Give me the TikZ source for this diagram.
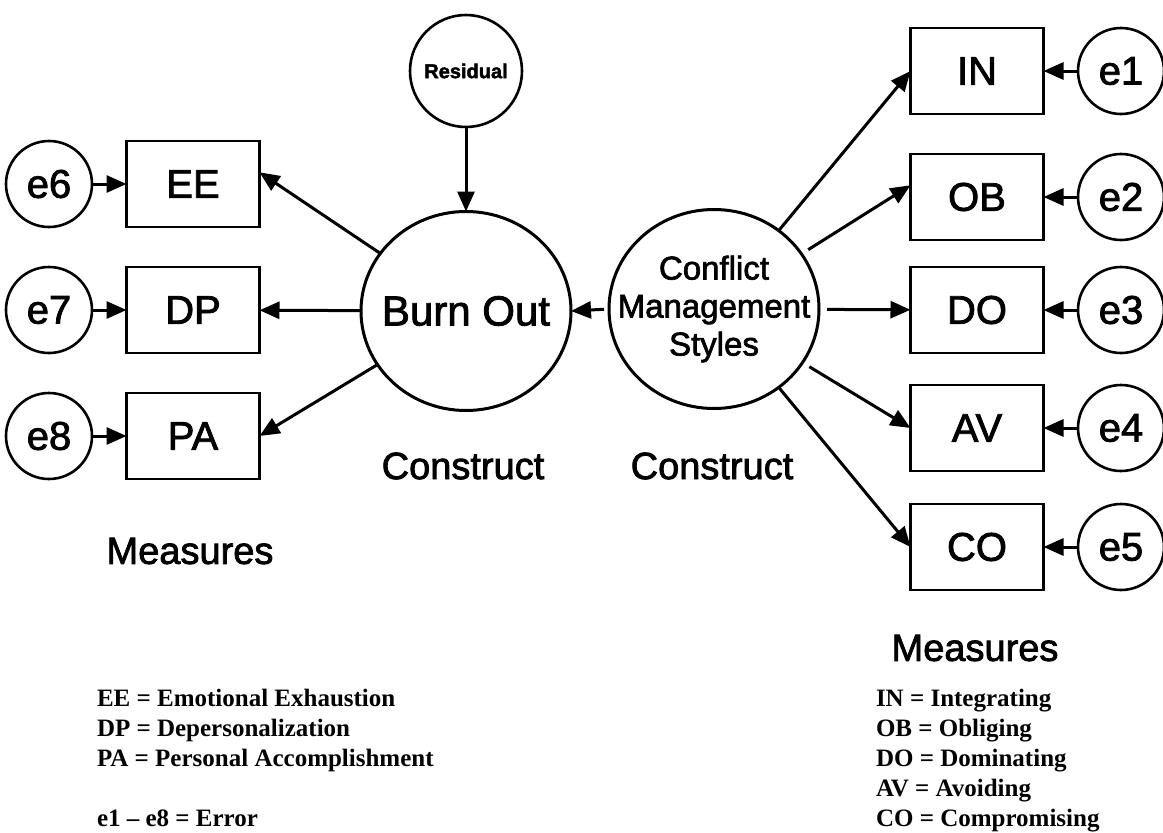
\documentclass[tikz,border=0pt]{standalone}
\usepackage{fontspec}
\setmainfont{Liberation Sans}
\newfontfamily\diagfont{Liberation Sans}[FakeBold=2]
\newfontfamily\legendfont{Liberation Serif}
\usetikzlibrary{arrows.meta,shapes.geometric}
\begin{document}
\begin{tikzpicture}[x=1pt,y=-1pt,
  every node/.style={inner sep=0pt, outer sep=0pt},
  latent/.style={draw, ellipse, line width=3pt, minimum width=210pt, minimum height=199pt},
  errc/.style={draw, circle, line width=2.6pt, minimum size=86pt, font=\diagfont\fontsize{40}{44}\selectfont},
  measure/.style={draw, rectangle, line width=2.6pt, minimum width=133pt, minimum height=86pt, font=\diagfont\fontsize{40}{44}\selectfont},
  link/.style={line width=3pt, -{Triangle[length=20pt,width=17pt]}},
  caption/.style={font=\diagfont\fontsize{38}{42}\selectfont},
  legend/.style={font=\legendfont\bfseries\fontsize{25}{30}\selectfont, anchor=base west}
]
\useasboundingbox (0,0) rectangle (1163,833);

% latent constructs: outline first, then the name on top
\node[latent] (bo) at (466,311) {};
\node[font=\diagfont\fontsize{42}{46}\selectfont] (botext) at (bo.center) {Burn Out};
\node[latent] (cms) at (714,309) {};
\node[font=\diagfont\fontsize{33}{38}\selectfont, align=center] (cmstext) at (cms.center) {Conflict\\Management\\Styles};
\node[draw, circle, line width=2.6pt, minimum size=112pt, font=\diagfont\bfseries\fontsize{20}{24}\selectfont] (res) at (466,71) {Residual};

% burnout measures and their errors
\node[measure] (ee) at (193,184) {EE};
\node[measure] (dp) at (193,310) {DP};
\node[measure] (pa) at (193,436) {PA};
\node[errc] (e6) at (49,184) {e6};
\node[errc] (e7) at (49,310) {e7};
\node[errc] (e8) at (49,436) {e8};

% conflict style measures and their errors
\node[measure] (in) at (977,71) {IN};
\node[measure] (ob) at (977,197) {OB};
\node[measure] (do) at (977,310) {DO};
\node[measure] (av) at (977,428) {AV};
\node[measure] (co) at (977,547) {CO};
\node[errc] (e1) at (1121,71) {e1};
\node[errc] (e2) at (1121,197) {e2};
\node[errc] (e3) at (1121,310) {e3};
\node[errc] (e4) at (1121,428) {e4};
\node[errc] (e5) at (1121,547) {e5};

% paths
\draw[link] (res) -- (bo);
\draw[link, shorten <=5pt] (cms.west) -- (bo.east);
\draw[link] (bo) -- (ee.10);
\draw[link] (bo) -- (dp);
\draw[link] (bo) -- (pa.east);
\draw[link] (e6) -- (ee);
\draw[link] (e7) -- (dp);
\draw[link] (e8) -- (pa);

\draw[link] (cms) -- (in.west);
\draw[link, shorten <=8pt] (cms) -- (ob.170);
\draw[link, shorten <=8pt] (cms) -- (do);
\draw[link, shorten <=8pt] (cms) -- (av.west);
\draw[link] (cms) -- (co.west);
\draw[link] (e1) -- (in);
\draw[link] (e2) -- (ob);
\draw[link] (e3) -- (do);
\draw[link] (e4) -- (av);
\draw[link] (e5) -- (co);

% captions
\node[caption] (c1) at (463,466) {Construct};
\node[caption] (c2) at (712,466) {Construct};
\node[caption] (m1) at (190,551) {Measures};
\node[caption] (m2) at (975,648) {Measures};

% legends
\node[legend] (l1) at (97,706) {EE = Emotional Exhaustion};
\node[legend] (l2) at (97,736) {DP = Depersonalization};
\node[legend] (l3) at (97,766) {PA = Personal Accomplishment};
\node[legend] (l4) at (97,826) {e1 – e8 = Error};

\node[legend] (r1) at (876,706) {IN = Integrating};
\node[legend] (r2) at (876,736) {OB = Obliging};
\node[legend] (r3) at (876,766) {DO = Dominating};
\node[legend] (r4) at (876,796) {AV = Avoiding};
\node[legend] (r5) at (876,826) {CO = Compromising};
\end{tikzpicture}
\end{document}
